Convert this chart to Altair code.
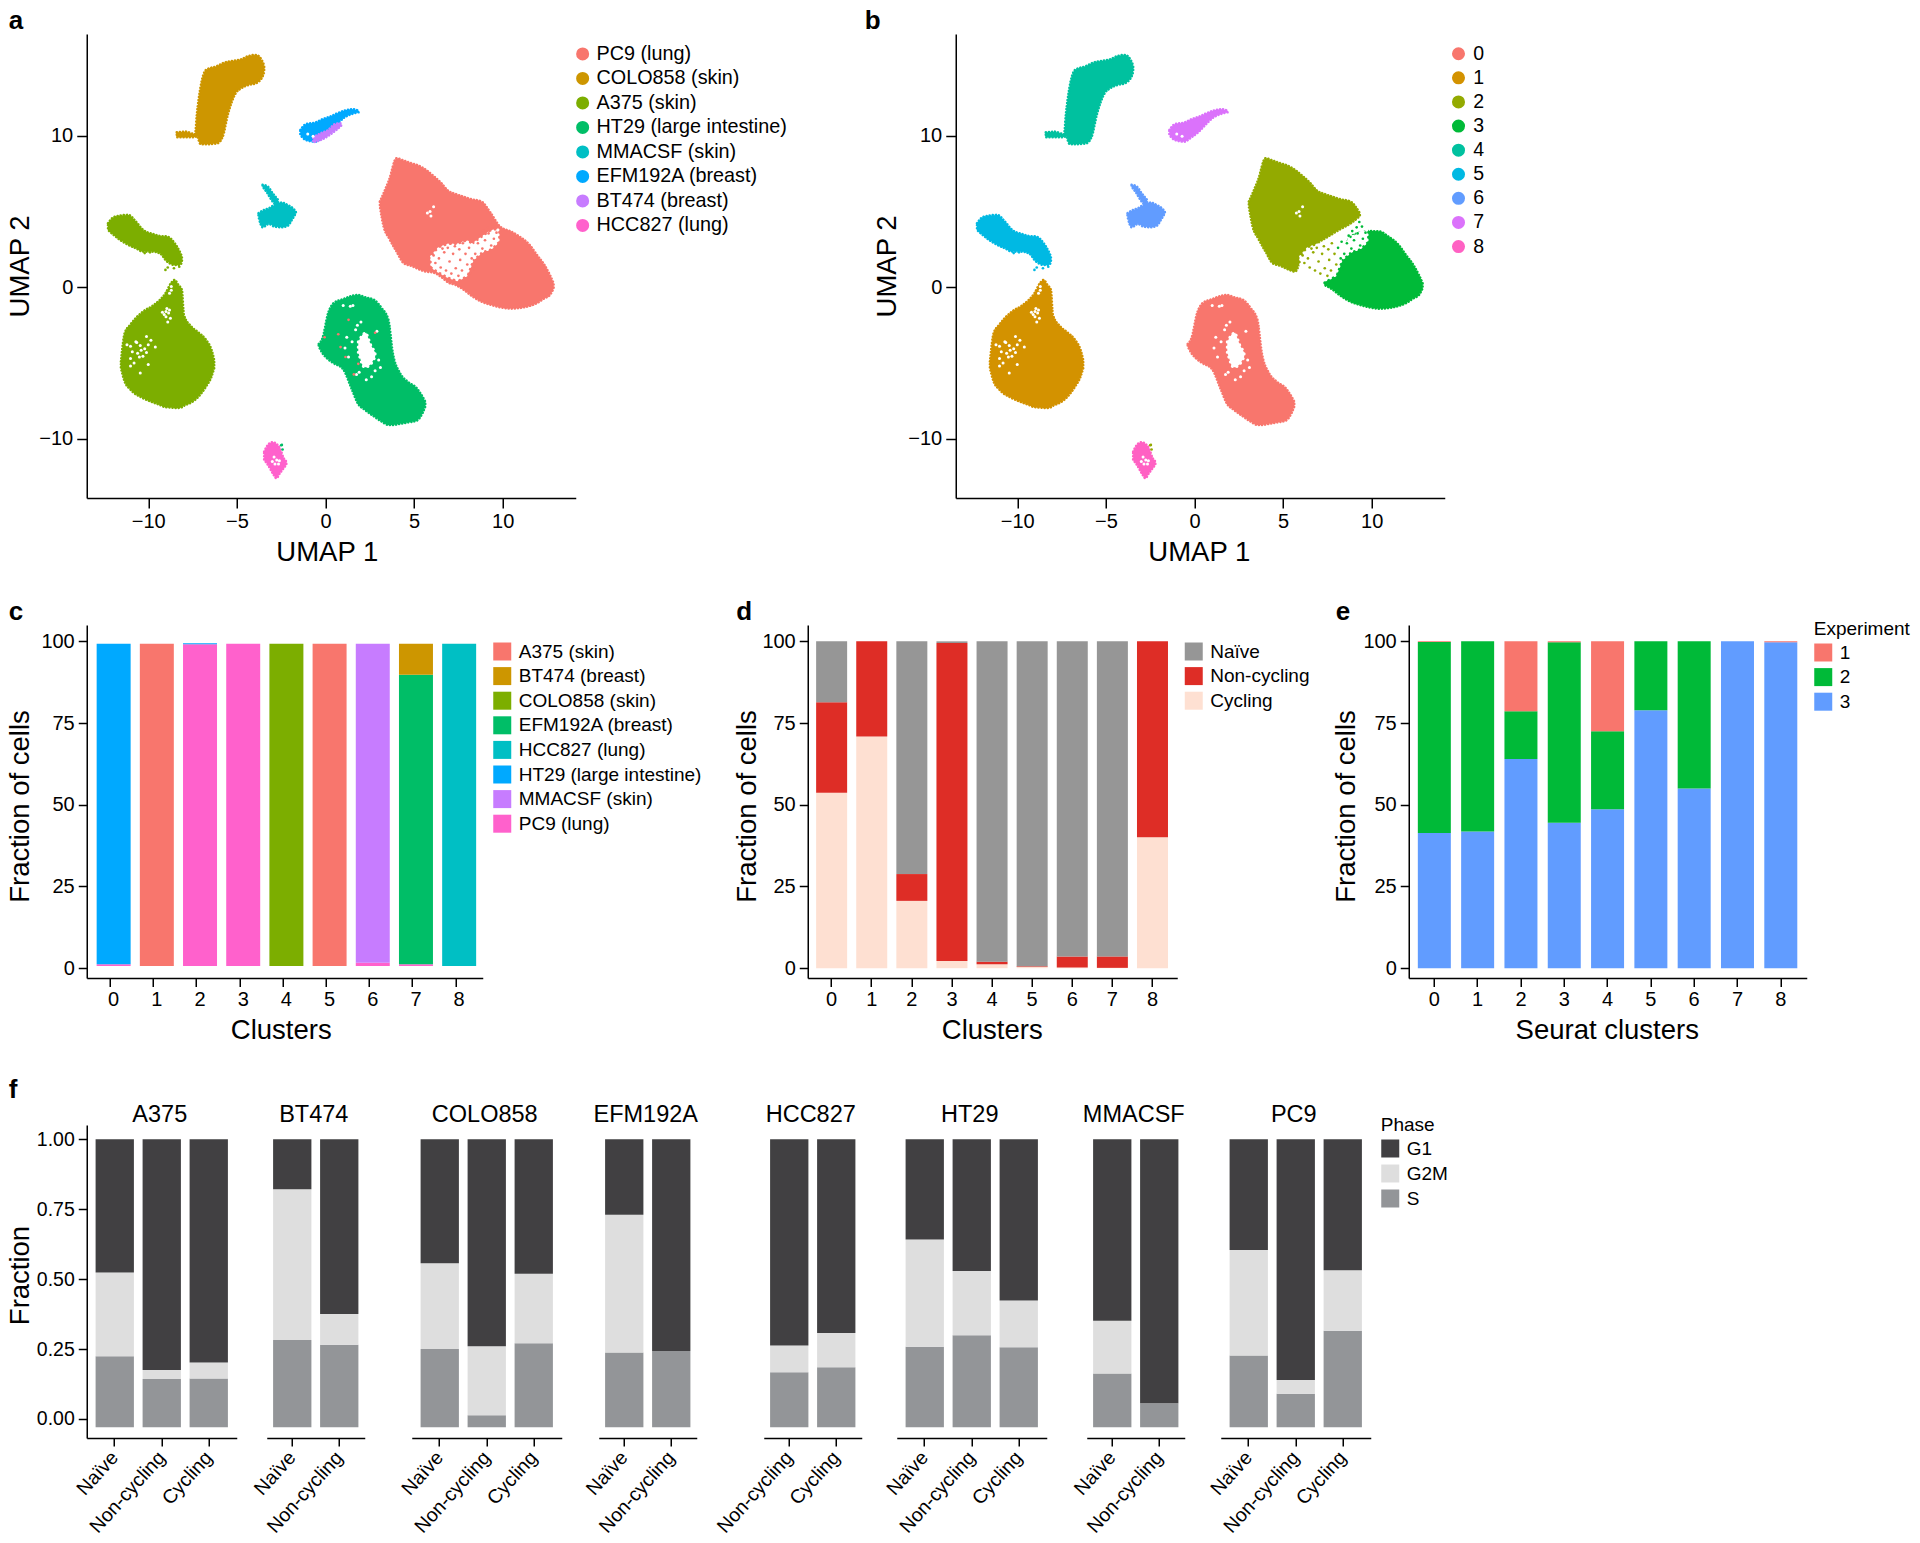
import altair as alt
import pandas as pd

FONT = "Liberation Sans"

# ---------- UMAP regions: x stations, upper and lower edge ----------
colo_x = [-8.39,-7.89,-7.36,-7.26,-7.05,-6.74,-6.11,-5.80,-5.49,-5.07,-4.76,-4.34,-3.92,-3.51,-3.46]
colo_t = [10.22,10.26,10.1,11.36,13.19,14.33,14.59,14.77,14.88,14.95,15.03,15.25,15.32,14.77,14.55]
colo_b = [9.89,9.89,9.9,9.98,9.45,9.43,9.49,9.93,11.47,12.79,13.12,13.34,13.45,14.0,14.22]

efm_x = [-1.42,-1.11,-.58,-.17,.25,.67,1.08,1.50,1.86]
efm_t = [10.37,10.75,10.86,11.08,11.25,11.47,11.65,11.74,11.65]
efm_b = [10.04,9.71,9.60,9.89,10.26,10.77,11.21,11.43,11.54]

bt_x = [-.69,-.27,.15,.56,.88]
bt_t = [9.89,10.15,10.37,10.77,10.81]
bt_b = [9.56,9.71,9.98,10.33,10.64]

mm_tail_x = [-3.55,-3.30,-2.98,-2.67]
mm_tail_t = [6.75,6.68,6.20,5.76]
mm_tail_b = [6.64,6.24,5.65,5.32]
mm_x = [-3.78,-3.55,-3.19,-2.88,-2.46,-2.15,-1.84,-1.67]
mm_t = [4.88,5.05,5.21,5.43,5.58,5.43,5.21,4.99]
mm_b = [4.66,3.96,4.18,4.0,3.96,4.04,4.55,4.88]

a3s_x = [-12.27,-11.95,-11.54,-11.12,-10.70,-10.29,-9.76,-9.35,-8.93,-8.51,-8.20,-8.10]
a3s_t = [4.22,4.62,4.73,4.77,4.33,3.78,3.52,3.38,3.34,2.90,2.29,2.02]
a3s_b = [3.78,3.45,3.08,2.79,2.57,2.35,2.35,2.24,1.69,1.47,1.47,1.69]

a3b_x = [-11.54,-11.33,-11.02,-10.29,-9.76,-9.35,-9.03,-8.72,-8.51,-8.30,-8.10,-7.99,-7.57,-7.16,-6.74,-6.43,-6.28]
a3b_t = [-4.90,-3.03,-2.48,-1.60,-1.23,-.84,-.40,.26,.48,.15,-.18,-1.82,-2.59,-2.99,-3.47,-4.13,-4.79]
a3b_b = [-5.34,-6.22,-6.73,-7.32,-7.58,-7.76,-7.91,-7.93,-7.96,-7.96,-7.91,-7.82,-7.60,-7.21,-6.55,-5.89,-5.34]

ht_x = [-.38,-.17,.15,.46,.98,1.50,1.82,2.23,2.75,3.17,3.55,3.80,4.21,4.63,5.15,5.47,5.63]
ht_t = [-3.74,-3.36,-1.71,-1.05,-.79,-.57,-.51,-.66,-.84,-1.38,-2.15,-4.35,-5.67,-6.22,-6.66,-7.21,-7.54]
ht_b = [-3.91,-4.35,-4.75,-5.01,-5.38,-6.77,-7.65,-8.09,-8.53,-8.86,-9.08,-9.08,-9.01,-8.92,-8.79,-8.31,-7.87]

hcc_x = [-3.46,-3.25,-2.98,-2.77,-2.57,-2.36,-2.21]
hcc_t = [-10.84,-10.40,-10.22,-10.33,-10.62,-11.27,-11.49]
hcc_b = [-11.38,-11.71,-12.26,-12.59,-12.26,-11.93,-11.71]

pc_x = [3.07,3.28,3.59,4.01,4.42,4.84,5.26,5.67,6.09,6.51,6.93,7.34,7.76,8.18,8.80,9.33,9.85,10.47,10.89,11.52,11.93,12.35,12.66,12.87]
pc_t = [5.65,6.20,7.08,8.51,8.35,8.18,8.02,7.74,7.34,6.90,6.35,6.15,5.98,5.82,5.65,4.88,4.0,3.67,3.38,2.79,2.13,1.47,.81,.26]
pc_b = [5.32,4.0,3.23,2.35,1.58,1.41,1.19,1.03,.97,.70,.31,.15,-.13,-.51,-.95,-1.16,-1.32,-1.41,-1.38,-1.23,-1.05,-.73,-.51,-.07]

c2_x = [3.07,3.28,3.59,4.01,4.42,4.84,5.26,5.67,6.05,6.51,6.93,7.34,7.76,8.18,8.80,9.33]
c2_t = [5.65,6.20,7.08,8.51,8.35,8.18,8.02,7.74,7.38,6.90,6.35,6.15,5.98,5.82,5.65,4.88]
c2_b = [5.32,4.0,3.23,2.35,1.58,1.41,1.19,1.03,1.9,2.4,2.9,3.2,3.5,3.8,4.2,4.7]

c3_x = [7.34,7.76,8.18,8.80,9.33,9.85,10.47,10.89,11.52,11.93,12.35,12.66,12.87]
c3_t = [.3,1.0,2.0,3.3,3.6,3.7,3.67,3.38,2.79,2.13,1.47,.81,.26]
c3_b = [.15,-.13,-.51,-.95,-1.16,-1.32,-1.41,-1.38,-1.23,-1.05,-.73,-.51,-.07]

# gaps in the clouds
hole1_x = [5.99,6.41,6.93,7.45,7.97,8.28,8.80,9.33,9.74]
hole1_t = [2.02,2.57,2.79,2.79,3.01,2.79,3.23,3.67,3.78]
hole1_b = [1.36,1.03,.70,.48,.81,1.80,2.35,2.57,3.01]
hole2_x = [1.85,2.1,2.3,2.55,2.8]
hole2_t = [-3.6,-3.1,-3.0,-3.8,-4.3]
hole2_b = [-4.3,-5.2,-5.3,-5.1,-4.6]

gaps_x = [-11.0,-10.7,-10.45,-10.4,-10.6,-10.2,-10.0,-10.5,-11.0,-9.6,-10.9,-10.3,-9.85,-10.1,-11.0,-10.45,-10.65,-10.1,-11.2,-10.8,-10.0,
          -9.0,-9.1,-8.85,-8.95,-8.75,-9.2,-8.9,-8.7,-8.8,-8.7,-9.0,-8.8,
          1.0,1.4,1.55,1.2,1.7,1.1,1.5,1.8,2.9,3.0,1.3,1.9,2.8,2.6,1.75,2.3,3.1,2.0,
          5.9,6.1,5.75,5.95,-1.0,-.7,
          -2.9,-2.75,-2.6,-3.0,-2.85,-2.65]
gaps_y = [-3.9,-3.6,-3.85,-4.15,-4.35,-4.05,-3.8,-4.6,-4.7,-3.95,-4.25,-4.55,-3.5,-3.25,-5.2,-5.65,-3.65,-4.3,-3.8,-5.0,-5.1,
          -1.6,-1.8,-1.7,-1.4,-2.05,-1.65,-2.3,-.2,-.4,.05,-1.95,-1.5,
          -1.2,-1.25,-1.2,-3.3,-2.8,-4.0,-3.6,-2.5,-2.9,-4.8,-4.6,-5.6,-5.5,-5.9,-5.75,-6.1,-5.3,-2.3,
          5.0,5.3,4.9,4.7,10.1,9.95,
          -11.2,-11.4,-11.45,-11.5,-11.65,-11.65]

specks_l_x = [6.2,6.4,6.5,6.7,6.8,6.9,7.0,7.1,7.2,7.3,7.35,7.5,7.55,7.6,7.7,7.75,7.9,6.1,6.6,8.0]
specks_l_y = [1.6,1.9,1.3,2.3,1.1,2.6,1.7,.9,2.2,2.7,1.25,.75,2.5,1.8,1.1,2.9,2.2,2.1,2.55,1.5]
specks_r_x = [8.1,8.3,8.45,8.6,8.7,8.85,9.0,9.2,9.35,9.5,9.65,9.2,8.9,9.45,9.3,9.15,8.25,8.4,8.15]
specks_r_y = [2.6,3.0,2.2,2.9,3.4,2.55,3.1,3.55,2.75,3.2,3.6,2.3,3.7,4.0,4.3,3.95,1.9,1.2,.95]

# stray cells of another group
stray_ht_x = [-.05,.72,.85,1.13,1.85,1.6,2.8,1.3]
stray_ht_y = [-3.3,-3.1,-3.95,-4.6,-5.05,-5.75,-3.0,-2.15]
stray_hcc_x = [-2.46,-2.42,-2.5]
stray_hcc_y = [-10.4,-10.7,-10.42]
stray_a3_x = [-9.03,-8.9,-8.55,-8.25,-10.9,-9.9,-10.2]
stray_a3_y = [1.14,1.3,1.25,1.35,2.7,2.3,2.25]

# ---------- stacked bars ----------
clusters = ["0","1","2","3","4","5","6","7","8"]

c_lines = ["A375 (skin)","BT474 (breast)","COLO858 (skin)","EFM192A (breast)","HCC827 (lung)","HT29 (large intestine)","MMACSF (skin)","PC9 (lung)"]
c_cols = ["#F8766D","#CD9600","#7CAE00","#00BE67","#00BFC4","#00A9FF","#C77CFF","#FF61CC"]
c_cl = ["0","0","1","2","2","3","4","5","6","6","7","7","7","8"]
c_ln = ["PC9 (lung)","HT29 (large intestine)","A375 (skin)","PC9 (lung)","HT29 (large intestine)","PC9 (lung)","COLO858 (skin)","A375 (skin)","PC9 (lung)","MMACSF (skin)","PC9 (lung)","EFM192A (breast)","BT474 (breast)","HCC827 (lung)"]
c_lo = [0.7,1.2,0.7,0.7,99.1,0.7,0.7,0.7,0.7,1.7,0.7,1.2,89.8,0.7]
c_hi = [1.2,99.3,99.3,99.1,99.4,99.3,99.3,99.3,1.7,99.3,1.2,89.8,99.3,99.3]

d_states = ["Naïve","Non-cycling","Cycling"]
d_cols = ["#969696","#DE2D26","#FEE0D2"]
d_cycling = [53.7,70.9,20.6,2.2,1.2,0.4,0.2,0.1,40.1]
d_noncyc = [81.4,100,28.8,99.5,2.0,0.6,3.6,3.6,100]

e_exps = ["1","2","3"]
e_cols = ["#F8766D","#00BA38","#619CFF"]
e_three = [41.4,41.8,64,44.5,48.6,78.9,55,100,99.7]
e_two = [99.8,100,78.6,99.7,72.5,100,100,100,99.7]

f_phases = ["G1","G2M","S"]
f_cols = ["#414042","#DEDEDE","#939598"]
f_lines = ["A375","BT474","COLO858","EFM192A","HCC827","HT29","MMACSF","PC9"]
f_states = {"A375":["Naïve","Non-cycling","Cycling"],"BT474":["Naïve","Non-cycling"],"COLO858":["Naïve","Non-cycling","Cycling"],
            "EFM192A":["Naïve","Non-cycling"],"HCC827":["Non-cycling","Cycling"],"HT29":["Naïve","Non-cycling","Cycling"],
            "MMACSF":["Naïve","Non-cycling"],"PC9":["Naïve","Non-cycling","Cycling"]}
f_s = {"A375":[.224,.143,.145],"BT474":[.282,.265],"COLO858":[.25,.013,.271],"EFM192A":[.238,.243],"HCC827":[.167,.185],"HT29":[.258,.299,.256],"MMACSF":[.163,.056],"PC9":[.227,.09,.315]}
f_g2 = {"A375":[.524,.175,.202],"BT474":[.821,.375],"COLO858":[.557,.26,.519],"EFM192A":[.73,.243],"HCC827":[.263,.307],"HT29":[.642,.529,.424],"MMACSF":[.351,.056],"PC9":[.604,.139,.532]}
f_base = -0.03

# ---------- helpers ----------
def blob(name, group, xs, ts, bs):
    return pd.DataFrame({"blob":name,"group":group,"x":xs,"t":ts,"b":bs})

def axis(values, title=None, tick=8.5, pad=4, fmt=None, size=20, **kw):
    args = dict(title=title, grid=False, ticks=True, tickSize=tick, tickWidth=1.5, tickColor="black",
                domainColor="black", domainWidth=1.5, labelColor="black", labelFont=FONT, labelFontSize=size,
                labelPadding=pad, titleFont=FONT, titleFontSize=27.5, titleColor="black", titleFontWeight="normal")
    if values is not None: args["values"] = values
    if fmt: args["format"] = fmt
    args.update(kw)
    return alt.Axis(**args)

def letter(ch, px, py):
    return alt.Chart(pd.DataFrame({"t":[ch]})).mark_text(font=FONT, fontWeight="bold", fontSize=26, align="left",
        baseline="alphabetic", color="black").encode(text="t:N", x=alt.value(px), y=alt.value(py))

def spacer(w, h=10):
    return alt.Chart(pd.DataFrame({"s":[0]})).mark_point(opacity=0).encode(x=alt.value(0), y=alt.value(0)).properties(width=w, height=h)

def indep(c):
    return c.resolve_scale(color="independent", fill="independent", stroke="independent")

UX = alt.Scale(domain=[-13.47,14.12], nice=False, zero=False)
UY = alt.Scale(domain=[-13.9,16.7], nice=False, zero=False)

def umap(blobs, domain, colours, specks, lx, ly, ltr, ltr_x, symsize, lab, tlx, rowpad, offs, ttx, w=489):
    table = pd.concat(blobs, ignore_index=True)
    sc = alt.Scale(domain=domain, range=colours)
    base = alt.Chart(table)
    xax = axis([-10,-5,0,5,10], "UMAP 1", tick=10, pad=3, titleY=62, titleX=ttx, titleBaseline="alphabetic")
    yax = axis([-10,0,10], "UMAP 2", tick=10, pad=4, titleX=tlx, titleBaseline="middle")
    ex = alt.X("x:Q", scale=UX, axis=xax)
    areas = base.mark_area(opacity=1, interpolate="monotone", strokeCap="round", strokeDash=[0.1,3], strokeWidth=2.6).encode(
        x=ex,
        y=alt.Y("t:Q", scale=UY, axis=yax),
        y2="b:Q",
        detail="blob:N",
        fill=alt.Fill("group:N", scale=sc, legend=alt.Legend(title=None, orient="none", legendX=lx, legendY=ly, symbolType="circle",
             symbolSize=symsize, symbolStrokeWidth=0, labelFont=FONT, labelFontSize=lab, labelColor="black", rowPadding=rowpad, labelOffset=offs, labelLimit=400)),
        stroke=alt.Stroke("group:N", scale=sc, legend=None))
    hole_tb = pd.concat([blob("h1","h",hole1_x,hole1_t,hole1_b), blob("h2","h",hole2_x,hole2_t,hole2_b)], ignore_index=True)
    holes = alt.Chart(hole_tb).mark_area(color="white", opacity=1, strokeCap="round", strokeDash=[0.1,5], stroke="white", strokeWidth=3).encode(
        x=ex, y=alt.Y("t:Q", scale=UY, axis=yax), y2="b:Q", detail="blob:N")
    gaps = alt.Chart(pd.DataFrame({"x":gaps_x,"y":gaps_y})).mark_circle(color="white", opacity=1, size=9).encode(
        x=ex, y=alt.Y("y:Q", scale=UY, axis=yax))
    dots = alt.Chart(specks).mark_circle(opacity=1, size=7).encode(
        x=ex, y=alt.Y("y:Q", scale=UY, axis=yax),
        color=alt.Color("group:N", scale=sc, legend=None))
    return alt.layer(areas, holes, gaps, dots, letter(ltr, ltr_x, -5)).properties(width=w, height=464)

ups = ["PC9 (lung)","COLO858 (skin)","A375 (skin)","HT29 (large intestine)","MMACSF (skin)","EFM192A (breast)","BT474 (breast)","HCC827 (lung)"]
ucols = ["#F8766D","#CD9600","#7CAE00","#00BE67","#00BFC4","#00A9FF","#C77CFF","#FF61CC"]
blobs_a = [blob("pc","PC9 (lung)",pc_x,pc_t,pc_b), blob("colo","COLO858 (skin)",colo_x,colo_t,colo_b),
           blob("a3s","A375 (skin)",a3s_x,a3s_t,a3s_b), blob("a3b","A375 (skin)",a3b_x,a3b_t,a3b_b),
           blob("ht","HT29 (large intestine)",ht_x,ht_t,ht_b), blob("mmt","MMACSF (skin)",mm_tail_x,mm_tail_t,mm_tail_b),
           blob("mm","MMACSF (skin)",mm_x,mm_t,mm_b), blob("efm","EFM192A (breast)",efm_x,efm_t,efm_b),
           blob("bt","BT474 (breast)",bt_x,bt_t,bt_b), blob("hcc","HCC827 (lung)",hcc_x,hcc_t,hcc_b)]
specks_a = pd.concat([
    pd.DataFrame({"x":specks_l_x+specks_r_x,"y":specks_l_y+specks_r_y,"group":"PC9 (lung)"}),
    pd.DataFrame({"x":stray_ht_x,"y":stray_ht_y,"group":"PC9 (lung)"}),
    pd.DataFrame({"x":stray_hcc_x,"y":stray_hcc_y,"group":"HT29 (large intestine)"}),
    pd.DataFrame({"x":stray_a3_x,"y":stray_a3_y,"group":"A375 (skin)"})], ignore_index=True)
panel_a = umap(blobs_a, ups, ucols, specks_a, 486, 10, "a", -78, 170, 19.8, -66.5, 3.5, 4, 240)

bnames = ["0","1","2","3","4","5","6","7","8"]
bcols = ["#F8766D","#D39200","#93AA00","#00BA38","#00C19F","#00B9E3","#619CFF","#DB72FB","#FF61C3"]
blobs_b = [blob("c2","2",c2_x,c2_t,c2_b), blob("c3","3",c3_x,c3_t,c3_b), blob("colo","4",colo_x,colo_t,colo_b),
           blob("a3s","5",a3s_x,a3s_t,a3s_b), blob("a3b","1",a3b_x,a3b_t,a3b_b), blob("ht","0",ht_x,ht_t,ht_b),
           blob("mmt","6",mm_tail_x,mm_tail_t,mm_tail_b), blob("mm","6",mm_x,mm_t,mm_b), blob("efm","7",efm_x,efm_t,efm_b),
           blob("hcc","8",hcc_x,hcc_t,hcc_b)]
specks_b = pd.concat([pd.DataFrame({"x":specks_l_x,"y":specks_l_y,"group":"2"}),
                      pd.DataFrame({"x":specks_r_x,"y":specks_r_y,"group":"3"}),
                      pd.DataFrame({"x":stray_hcc_x,"y":stray_hcc_y,"group":"2"}),
                      pd.DataFrame({"x":stray_a3_x,"y":stray_a3_y,"group":"5"})], ignore_index=True)
panel_b = umap(blobs_b, bnames, bcols, specks_b, 493, 10, "b", -91, 170, 19.5, -68, 3.1, 5, 243)

YB = alt.Scale(domain=[-3,105], nice=False, zero=False)

def bars(table, order, colours, width, inner, outer, align, xtitle, ttx, band, ltr, ltr_x, ytitle_x, lx, ly, ltitle=None, lab=19):
    sc = alt.Scale(domain=order, range=colours)
    legend_args = dict(orient="none", legendX=lx, legendY=ly, symbolType="square", symbolSize=324, symbolStrokeWidth=0, labelFont=FONT, labelFontSize=lab,
              labelColor="black", rowPadding=4.6, labelOffset=7, labelLimit=400, title=ltitle, titleFont=FONT, titleFontSize=19, titleFontWeight="normal", titleColor="black", titlePadding=4)
    ch = alt.Chart(table).mark_bar(opacity=1).encode(
        x=alt.X("cl:N", sort=clusters, scale=alt.Scale(paddingInner=inner, paddingOuter=outer, align=align),
                axis=axis(None, xtitle, pad=3, labelAngle=0, titleY=60, titleX=ttx, titleBaseline="alphabetic", bandPosition=band)),
        y=alt.Y("lo:Q", scale=YB, axis=axis([0,25,50,75,100], "Fraction of cells", pad=4, titleX=ytitle_x, titleY=181, titleBaseline="middle")),
        y2="hi:Q",
        color=alt.Color("k:N", scale=sc, legend=alt.Legend(**legend_args)))
    return alt.layer(ch, letter(ltr, ltr_x, -5)).properties(width=width, height=353)

c_table = pd.DataFrame({"cl":c_cl,"k":c_ln,"lo":c_lo,"hi":c_hi})
d_rows = []
for i, cl in enumerate(clusters):
    d_rows.append((cl,"Cycling",0,d_cycling[i]))
    d_rows.append((cl,"Non-cycling",d_cycling[i],d_noncyc[i]))
    if d_noncyc[i] < 100: d_rows.append((cl,"Naïve",d_noncyc[i],100))
d_table = pd.DataFrame(d_rows, columns=["cl","k","lo","hi"])
e_rows = []
for i, cl in enumerate(clusters):
    e_rows.append((cl,"3",0,e_three[i]))
    if e_two[i] > e_three[i]: e_rows.append((cl,"2",e_three[i],e_two[i]))
    if e_two[i] < 100: e_rows.append((cl,"1",e_two[i],100))
e_table = pd.DataFrame(e_rows, columns=["cl","k","lo","hi"])

panel_c = bars(c_table, c_lines, c_cols, 396, 0.213, 0.191, 0.6, "Clusters", 194, 0.403, "c", -78, -66.5, 406, 17)
panel_d = bars(d_table, d_states, d_cols, 369.5, 0.227, 0.22, 0.475, "Clusters", 184, 0.5, "d", -71.5, -60, 376.5, 17)
panel_e = bars(e_table, e_exps, e_cols, 398, 0.238, 0.214, 0.49, "Seurat clusters", 198, 0.5, "e", -73, -62, 405, -5, ltitle="Experiment")

YF = alt.Scale(domain=[-0.068,1.051], nice=False, zero=False)
f_widths = {"A375":150,"BT474":98,"COLO858":150,"EFM192A":98,"HCC827":98,"HT29":150,"MMACSF":98,"PC9":150}
f_gaps = [30,47,36.7,67,35,40,36]

def panel_f(line, first):
    rows = []
    for st, s, g in zip(f_states[line], f_s[line], f_g2[line]):
        rows.append((st,"S",f_base,s))
        if g > s: rows.append((st,"G2M",s,g))
        rows.append((st,"G1",g,1.0))
    tb = pd.DataFrame(rows, columns=["st","k","lo","hi"])
    n = len(f_states[line])
    w = f_widths[line]
    step = 47.0
    inner = 0.185
    outer = (w/step - n + inner)/2
    yax = axis([0,.25,.5,.75,1], "Fraction", fmt=".2f", pad=4, size=19.5, titleX=-66.5, titleY=150, titleBaseline="middle") if first else None
    if line == "PC9":
        lg = alt.Legend(title="Phase", titleFont=FONT, titleFontSize=19, titleFontWeight="normal", titleColor="black", titlePadding=4,
                  orient="none", legendX=160, legendY=-9, symbolType="square", symbolSize=324, symbolStrokeWidth=0, labelFont=FONT, labelFontSize=19,
                  labelColor="black", rowPadding=5, labelOffset=7)
    else:
        lg = None
    bars_ch = alt.Chart(tb).mark_bar(opacity=1).encode(
        x=alt.X("st:N", sort=f_states[line], scale=alt.Scale(paddingInner=inner, paddingOuter=outer),
                axis=axis(None, None, tick=8, pad=8, labelAngle=312, labelAlign="right", labelBaseline="middle", size=19.5, labelOverlap=False)),
        y=alt.Y("lo:Q", scale=YF, axis=yax),
        y2="hi:Q",
        color=alt.Color("k:N", scale=alt.Scale(domain=f_phases, range=f_cols), legend=lg))
    title = alt.Chart(pd.DataFrame({"t":[line]})).mark_text(font=FONT, fontSize=23.5, color="black", baseline="alphabetic", align="center").encode(
        text="t:N", x=alt.value(w/2 - 2), y=alt.value(-3))
    layers = [bars_ch, title]
    if first:
        layers.append(letter("f", -78, -27))
    return alt.layer(*layers).properties(width=w, height=313)

row1 = indep(alt.hconcat(panel_a, spacer(379.5), panel_b, spacing=0, bounds="flush"))
row2 = indep(alt.hconcat(panel_c, spacer(324.5), panel_d, spacer(231), panel_e, spacing=0, bounds="flush"))
f_items = []
for i, line in enumerate(f_lines):
    f_items.append(panel_f(line, i == 0))
    if i < len(f_gaps):
        f_items.append(spacer(f_gaps[i]))
row3 = indep(alt.hconcat(*f_items, spacing=0, bounds="flush"))

chart = indep(alt.vconcat(row1, spacer(1, 591), row2, spacer(1, 500), row3, spacing=0, bounds="flush")).configure_view(stroke=None).properties(padding={"left":-2.25,"top":0,"right":0,"bottom":0})
chart.save("out.html", embed_options={"renderer": "svg", "actions": False})
